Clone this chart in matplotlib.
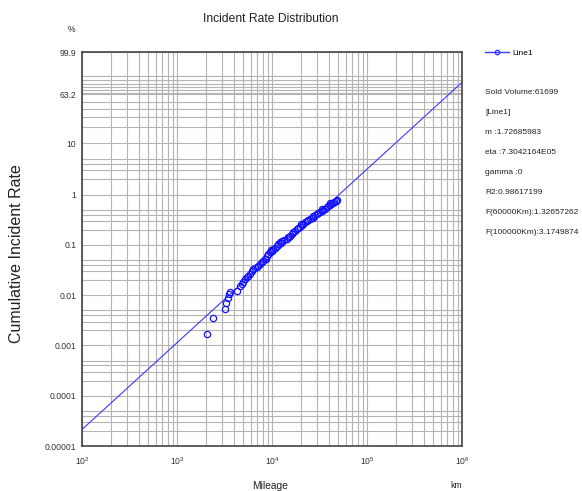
import numpy as np
import matplotlib
matplotlib.use("Agg")
import matplotlib.pyplot as plt
from matplotlib.ticker import FixedLocator, NullFormatter, LogLocator, LogFormatterSciNotation
from matplotlib.lines import Line2D

# --- data ---
mileage_km = [2060, 2410, 3200, 3290, 3450, 3560, 3620, 4310, 4550, 4800,
              5000, 5200, 5450, 5640, 5900, 6100, 6360, 6700, 7000, 7180,
              7450, 7800, 8100, 8440, 8600, 8800, 9140, 9500, 9700, 9930,
              10300, 10700, 11200, 11600, 12130, 12400, 12700, 13400, 14280, 14900,
              15200, 15500, 16100, 16800, 17460, 18200, 19000, 19800, 20200, 20600,
              21400, 22250, 23200, 24200, 25200, 26200, 26700, 27300, 28370, 29500,
              30700, 32000, 33300, 33900, 34700, 36100, 37660, 39000, 40500, 41000,
              42000, 43600, 45200, 46900, 47700, 48600]
incident_pct = [0.0017, 0.0035, 0.0052, 0.0070, 0.0089, 0.0108, 0.0118, 0.0122, 0.0150, 0.0166,
                0.0185, 0.0209, 0.0228, 0.0243, 0.0270, 0.0300, 0.0331, 0.0350, 0.0370, 0.0385,
                0.0410, 0.0451, 0.0490, 0.0525, 0.0530, 0.0590, 0.0660, 0.0710, 0.0810, 0.0770,
                0.0820, 0.0880, 0.0970, 0.1040, 0.1130, 0.1080, 0.1190, 0.1250, 0.1320, 0.1420,
                0.1460, 0.1530, 0.1640, 0.1780, 0.1930, 0.2050, 0.2180, 0.2320, 0.2600, 0.2470,
                0.2640, 0.2840, 0.2990, 0.3150, 0.3320, 0.3500, 0.3420, 0.3680, 0.3850, 0.4050,
                0.4260, 0.4480, 0.4720, 0.5100, 0.4970, 0.5300, 0.5670, 0.5950, 0.6250, 0.6700,
                0.6550, 0.6900, 0.7200, 0.7500, 0.7300, 0.7900]

# Weibull fit parameters shown in the side panel
shape_m = 1.72685983
scale_eta = 7.3042164e5

y_ticks = [0.00001, 0.0001, 0.001, 0.01, 0.1, 1, 10, 63.2, 99.9]
y_tick_labels = ["0.00001", "0.0001", "0.001", "0.01", "0.1", "1", "10", "63.2", "99.9"]

info_lines = ["Sold Volume:61699", "[Line1]", "m :1.72685983", "eta :7.3042164E05",
              "gamma :0", "R2:0.98617199", "F(60000Km):1.32657262", "F(100000Km):3.1749874"]


# --- Weibull probability scale ---
def weib_fwd(p):
    p = np.clip(np.asarray(p, dtype=float), 1e-12, 99.99999)
    return np.log10(-np.log1p(-p / 100.0))


def weib_inv(w):
    return -np.expm1(-10.0 ** np.asarray(w, dtype=float)) * 100.0


# minor grid lines: 2..5 x each decade (percent), 5% steps near the top
y_minor = []
for e in range(-5, 1):
    for k in (2, 3, 4, 5):
        y_minor.append(k * 10.0 ** e)
y_minor += [20, 30, 40, 50, 65, 70, 75, 80, 85, 90]

plt.rcParams['font.family'] = ['Liberation Sans', 'DejaVu Sans']

fig = plt.figure(figsize=(5.82, 4.91), dpi=100)
ax = fig.add_axes([82 / 582, 1 - 446 / 491, 380 / 582, 394 / 491])

ax.set_xscale('log')
ax.set_yscale('function', functions=(weib_fwd, weib_inv))
ax.set_xlim(1e2, 1e6)
ax.set_ylim(0.00001, 99.9)

grid_col = '#b4b4b4'
ax.xaxis.set_major_locator(LogLocator(base=10, numticks=10))
ax.xaxis.set_minor_locator(LogLocator(base=10, subs=np.arange(2, 10), numticks=20))
ax.xaxis.set_major_formatter(LogFormatterSciNotation())
ax.xaxis.set_minor_formatter(NullFormatter())
ax.yaxis.set_major_locator(FixedLocator(y_ticks))
ax.yaxis.set_minor_locator(FixedLocator(y_minor))
ax.set_yticklabels(y_tick_labels)
ax.yaxis.set_minor_formatter(NullFormatter())
ax.grid(True, which='both', color=grid_col, lw=0.8)
ax.tick_params(which='both', length=0, labelsize=6.2, colors='#333333')
ax.tick_params(axis='x', pad=7)
ax.tick_params(axis='y', pad=4)
for s in ax.spines.values():
    s.set_color('#444444')
    s.set_linewidth(1.2)

# fitted Weibull line
xf = np.logspace(2, 6, 200)
yf = -np.expm1(-(xf / scale_eta) ** shape_m) * 100.0
ax.plot(xf, yf, color='#3a3aff', lw=0.8, zorder=3)

# observed points
ax.plot(mileage_km, incident_pct, ls='none', marker='o', ms=4.5, mfc='none',
        mec='#1515ff', mew=0.9, zorder=4)

fig.text(271 / 582, 1 - 19 / 491, "Incident Rate Distribution", ha='center', va='center',
         fontsize=8.7, color='#222222')
fig.text(72 / 582, 1 - 29 / 491, "%", ha='center', va='center', fontsize=6.2, color='#222222')
fig.text(17 / 582, 1 - 254 / 491, "Cumulative Incident Rate", rotation=90, ha='center',
         va='center', fontsize=11.5, color='#222222')
fig.text(270 / 582, 1 - 486 / 491, "Mileage", ha='center', va='center', fontsize=7.4, color='#222222')
fig.text(456 / 582, 1 - 486 / 491, "km", ha='center', va='center', fontsize=6.2, color='#222222')

# legend
handle = Line2D([], [], color='#3a3aff', lw=1.0, marker='o', ms=3.2, mfc='none', mec='#3a3aff')
fig.legend([handle], ["Line1"], loc='center left', bbox_to_anchor=(485 / 582, 1 - 53 / 491),
           frameon=False, fontsize=6, handlelength=2.9, handletextpad=0.4, borderaxespad=0,
           borderpad=0)

for i, t in enumerate(info_lines):
    fig.text(485 / 582, 1 - (92 + i * 20) / 491, t, ha='left', va='center',
             fontsize=6.0, color='#222222')

fig.savefig("out.png", dpi=100)
